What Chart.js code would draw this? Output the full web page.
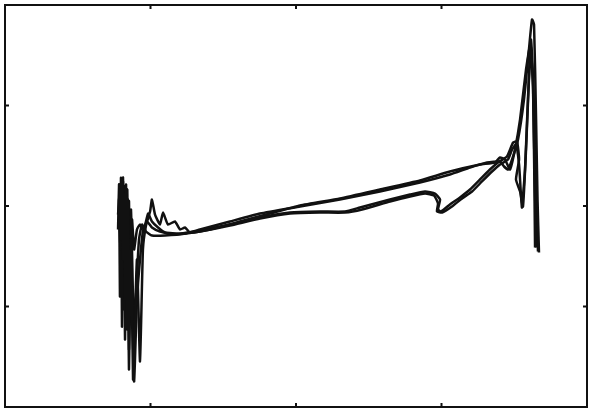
<!DOCTYPE html>
<html>
<head>
  <title>Traces</title>
  <script src="https://cdn.jsdelivr.net/npm/chart.js"></script>
  <style>
    body { margin: 0; background: #fff; }
    #wrap { width: 590px; height: 409px; }
  </style>
</head>
<body>
  <div id="wrap"><canvas id="traceChart" width="590" height="409"></canvas></div>

  <script>
    // axis ranges (ticks only, no labels)
    const xTicks = [0, 100, 200, 300, 400];
    const yTicks = [-200, -100, 0, 100, 200];

    // trace 1 (upper line)
    const t1X = [77.7, 79.0, 79.7, 80.4, 81.1, 81.8, 82.5, 83.2, 83.9, 84.5, 85.2, 86.6, 88.0, 90.0, 92.1, 94.2, 96.9, 101.0, 110.0, 123.7, 134.0, 154.6, 175.3, 202.8, 230.2, 257.7, 285.2, 305.8, 319.6, 331.3, 340.2, 343.0, 345.7, 348.5, 352.6, 356.7, 360.1, 362.2, 363.6, 365.0, 366.0, 367.0];
    const t1Y = [-8.5, 16.4, -33.3, 26.4, -53.2, 11.4, -93.0, 21.4, -122.9, 6.5, -142.8, -33.3, -172.6, -93.0, -33.3, -18.4, -25.4, -29.4, -29.4, -27.4, -23.4, -15.4, -7.5, -0.5, 6.5, 14.4, 23.4, 31.3, 38.3, 43.3, 44.3, 39.3, 36.3, 46.3, 66.2, 106.0, 155.7, 185.6, 180.6, 86.1, 6.5, -46.3];

    // trace 2 (upper line, ringing after the burst)
    const t2X = [78.4, 79.7, 81.1, 82.5, 83.9, 85.2, 86.6, 88.7, 90.7, 92.8, 94.8, 96.9, 99.7, 101.0, 103.1, 106.5, 108.6, 112.0, 116.8, 120.3, 123.7, 127.2, 140.9, 161.5, 182.1, 202.8, 230.2, 257.7, 285.2, 305.8, 326.5, 336.8, 340.2, 343.6, 347.1, 350.5, 354.0, 358.1, 360.8, 362.9, 364.3];
    const t2Y = [6.5, -43.3, 28.4, -73.1, 16.4, -112.9, -3.5, -132.8, -53.2, -154.7, -43.3, -19.4, -5.5, 6.5, -8.5, -18.4, -6.5, -18.4, -15.4, -23.4, -21.4, -26.4, -23.4, -15.4, -7.5, 0.5, 7.5, 16.4, 25.4, 34.3, 41.3, 43.3, 48.3, 46.3, 36.3, 56.2, 86.1, 135.8, 158.7, 125.9, -41.3];

    // trace 3 (lower line with hook)
    const t3X = [77.7, 78.4, 79.0, 79.7, 80.4, 81.1, 81.8, 82.5, 83.2, 83.9, 84.5, 85.2, 85.9, 87.3, 88.7, 90.7, 92.8, 95.5, 98.3, 101.0, 105.2, 110.0, 120.3, 134.0, 154.6, 175.3, 195.9, 216.5, 233.7, 244.0, 264.6, 278.4, 288.7, 295.5, 299.0, 297.6, 299.7, 305.8, 312.7, 319.6, 326.5, 333.3, 338.8, 345.0, 349.2, 351.9, 353.3, 351.2, 354.0, 356.0, 358.1, 360.1, 361.5, 362.9, 365.0];
    const t3Y = [-23.4, 21.4, -90.0, 28.0, -120.0, 24.4, -103.0, 20.0, -110.0, 16.4, -83.0, 5.0, -60.0, -13.4, -43.3, -23.4, -18.4, -23.4, -7.5, -15.4, -21.4, -26.4, -27.4, -24.4, -18.4, -11.4, -6.5, -5.5, -5.5, -1.5, 6.5, 11.4, 14.4, 12.4, 6.5, -3.5, -5.5, 1.5, 8.5, 16.4, 26.4, 36.3, 43.3, 49.3, 63.2, 64.2, 46.3, 26.4, 14.4, -0.5, 56.2, 125.9, 157.7, 115.9, -41.3];

    // trace 4 (lower line with hook)
    const t4X = [78.4, 79.7, 81.1, 82.5, 83.9, 85.2, 86.6, 88.7, 90.7, 92.8, 94.8, 97.6, 101.0, 106.5, 116.8, 134.0, 154.6, 175.3, 195.9, 216.5, 233.7, 245.4, 264.6, 278.4, 288.7, 294.9, 297.6, 296.9, 300.4, 307.2, 314.1, 321.0, 327.8, 334.7, 340.2, 345.7, 348.5, 351.2, 353.3, 354.6, 355.3, 357.4, 359.4, 361.5, 363.6, 366.3];
    const t4Y = [-3.5, -53.2, 16.4, -132.8, 6.5, -162.7, -43.3, -174.6, -93.0, -53.2, -25.4, -15.4, -21.4, -25.4, -28.4, -25.4, -19.4, -12.4, -7.5, -6.5, -6.5, -3.5, 4.5, 9.5, 12.4, 10.4, 2.5, -5.5, -6.5, -0.5, 7.5, 14.4, 24.4, 34.3, 41.3, 46.3, 56.2, 61.2, 41.3, 11.4, -1.5, 36.3, 106.0, 165.7, 96.0, -45.3];

    const traces = [[t1X, t1Y], [t2X, t2Y], [t3X, t3Y], [t4X, t4Y]];

    // frame + inward ticks on all four sides
    const framePlugin = {
      id: "frame",
      afterDraw(chart) {
        const { ctx, chartArea: a, scales } = chart;
        ctx.save();
        ctx.strokeStyle = "#111";
        ctx.lineWidth = 2;
        ctx.strokeRect(a.left, a.top, a.right - a.left, a.bottom - a.top);
        const len = 4;
        ctx.beginPath();
        xTicks.slice(1, -1).forEach(v => {
          const px = scales.x.getPixelForValue(v);
          ctx.moveTo(px, a.top); ctx.lineTo(px, a.top + len);
          ctx.moveTo(px, a.bottom); ctx.lineTo(px, a.bottom - len);
        });
        yTicks.slice(1, -1).forEach(v => {
          const py = scales.y.getPixelForValue(v);
          ctx.moveTo(a.left, py); ctx.lineTo(a.left + len, py);
          ctx.moveTo(a.right, py); ctx.lineTo(a.right - len, py);
        });
        ctx.stroke();
        ctx.restore();
      }
    };

    new Chart(document.getElementById("traceChart"), {
      type: "line",
      data: {
        datasets: traces.map(([xs, ys]) => ({
          data: xs.map((x, i) => ({ x: x, y: ys[i] })),
          borderColor: "#111",
          borderWidth: 2.5,
          pointRadius: 0,
          tension: 0.15,
          fill: false
        }))
      },
      options: {
        responsive: false,
        animation: false,
        layout: { padding: { left: 5, top: 5, right: 3, bottom: 2 } },
        plugins: { legend: { display: false }, tooltip: { enabled: false } },
        scales: {
          x: { type: "linear", display: false, min: xTicks[0], max: xTicks[xTicks.length - 1] },
          y: { type: "linear", display: false, min: yTicks[0], max: yTicks[yTicks.length - 1] }
        }
      },
      plugins: [framePlugin]
    });
  </script>
</body>
</html>
